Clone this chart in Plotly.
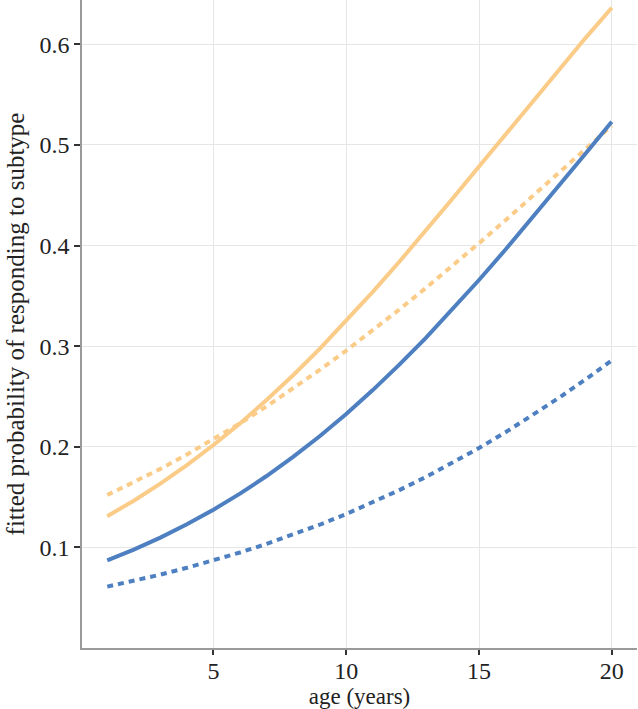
import plotly.graph_objects as go

age = list(range(1, 21))

orange_solid = [0.1310, 0.1464, 0.1633, 0.1817, 0.2017, 0.2232, 0.2464, 0.2711, 0.2973, 0.3250,
                0.3539, 0.3839, 0.4147, 0.4464, 0.4785, 0.5107, 0.5429, 0.5747, 0.6059, 0.6363]
orange_dotted = [0.1520, 0.1646, 0.1780, 0.1923, 0.2073, 0.2233, 0.2401, 0.2578, 0.2763, 0.2956,
                 0.3156, 0.3364, 0.3578, 0.3798, 0.4023, 0.4252, 0.4484, 0.4719, 0.4955, 0.5191]
blue_solid = [0.0870, 0.0978, 0.1097, 0.1229, 0.1375, 0.1534, 0.1709, 0.1899, 0.2104, 0.2326,
              0.2563, 0.2816, 0.3083, 0.3364, 0.3657, 0.3960, 0.4272, 0.4589, 0.4910, 0.5231]
blue_dotted = [0.0610, 0.0667, 0.0729, 0.0797, 0.0870, 0.0949, 0.1034, 0.1126, 0.1225, 0.1332,
               0.1447, 0.1569, 0.1700, 0.1839, 0.1987, 0.2144, 0.2310, 0.2484, 0.2667, 0.2858]

x_ticks = [5, 10, 15, 20]
y_ticks = [0.1, 0.2, 0.3, 0.4, 0.5, 0.6]

ORANGE = "#FBCB88"
BLUE = "#4E80C1"
FONT = "Liberation Serif"
TXT = "#222222"

fig = go.Figure()
series = [
    (orange_dotted, ORANGE, "6px,5px"),
    (orange_solid, ORANGE, "solid"),
    (blue_dotted, BLUE, "6px,5px"),
    (blue_solid, BLUE, "solid"),
]
for ys, col, dash in series:
    fig.add_trace(go.Scatter(x=age, y=ys, mode="lines",
                             line=dict(color=col, width=4, dash=dash),
                             showlegend=False, hoverinfo="skip"))

fig.update_layout(
    width=638, height=709,
    margin=dict(l=82, r=1, t=0, b=61),
    paper_bgcolor="white", plot_bgcolor="white",
    font=dict(family=FONT, color=TXT, size=24),
)
fig.update_xaxes(
    range=[0.05, 20.95], tickvals=x_ticks, ticktext=[str(v) for v in x_ticks],
    showgrid=True, gridcolor="#E6E6E6", gridwidth=1,
    showline=True, linecolor="#9A9A9A", linewidth=1.5,
    ticks="outside", ticklen=5, tickcolor="#333333", tickwidth=1.5,
    tickfont=dict(family=FONT, size=24, color=TXT),
    ticklabelstandoff=-5,
    title=dict(text="age (years)", font=dict(family=FONT, size=23, color=TXT), standoff=2),
    zeroline=False,
)
fig.update_yaxes(
    range=[0, 0.644], tickvals=y_ticks, ticktext=[f"{v:.1f}" for v in y_ticks],
    showgrid=True, gridcolor="#E6E6E6", gridwidth=1,
    showline=True, linecolor="#9A9A9A", linewidth=1.5,
    ticks="outside", ticklen=6, tickcolor="#333333", tickwidth=1.5,
    tickfont=dict(family=FONT, size=24, color=TXT),
    title=dict(text="fitted probability of responding to subtype",
               font=dict(family=FONT, size=25, color=TXT), standoff=8),
    zeroline=False,
)

fig.write_html("out.html", config={"displayModeBar": False},
               post_script="document.body.style.margin='0px';document.body.style.overflow='hidden';")
